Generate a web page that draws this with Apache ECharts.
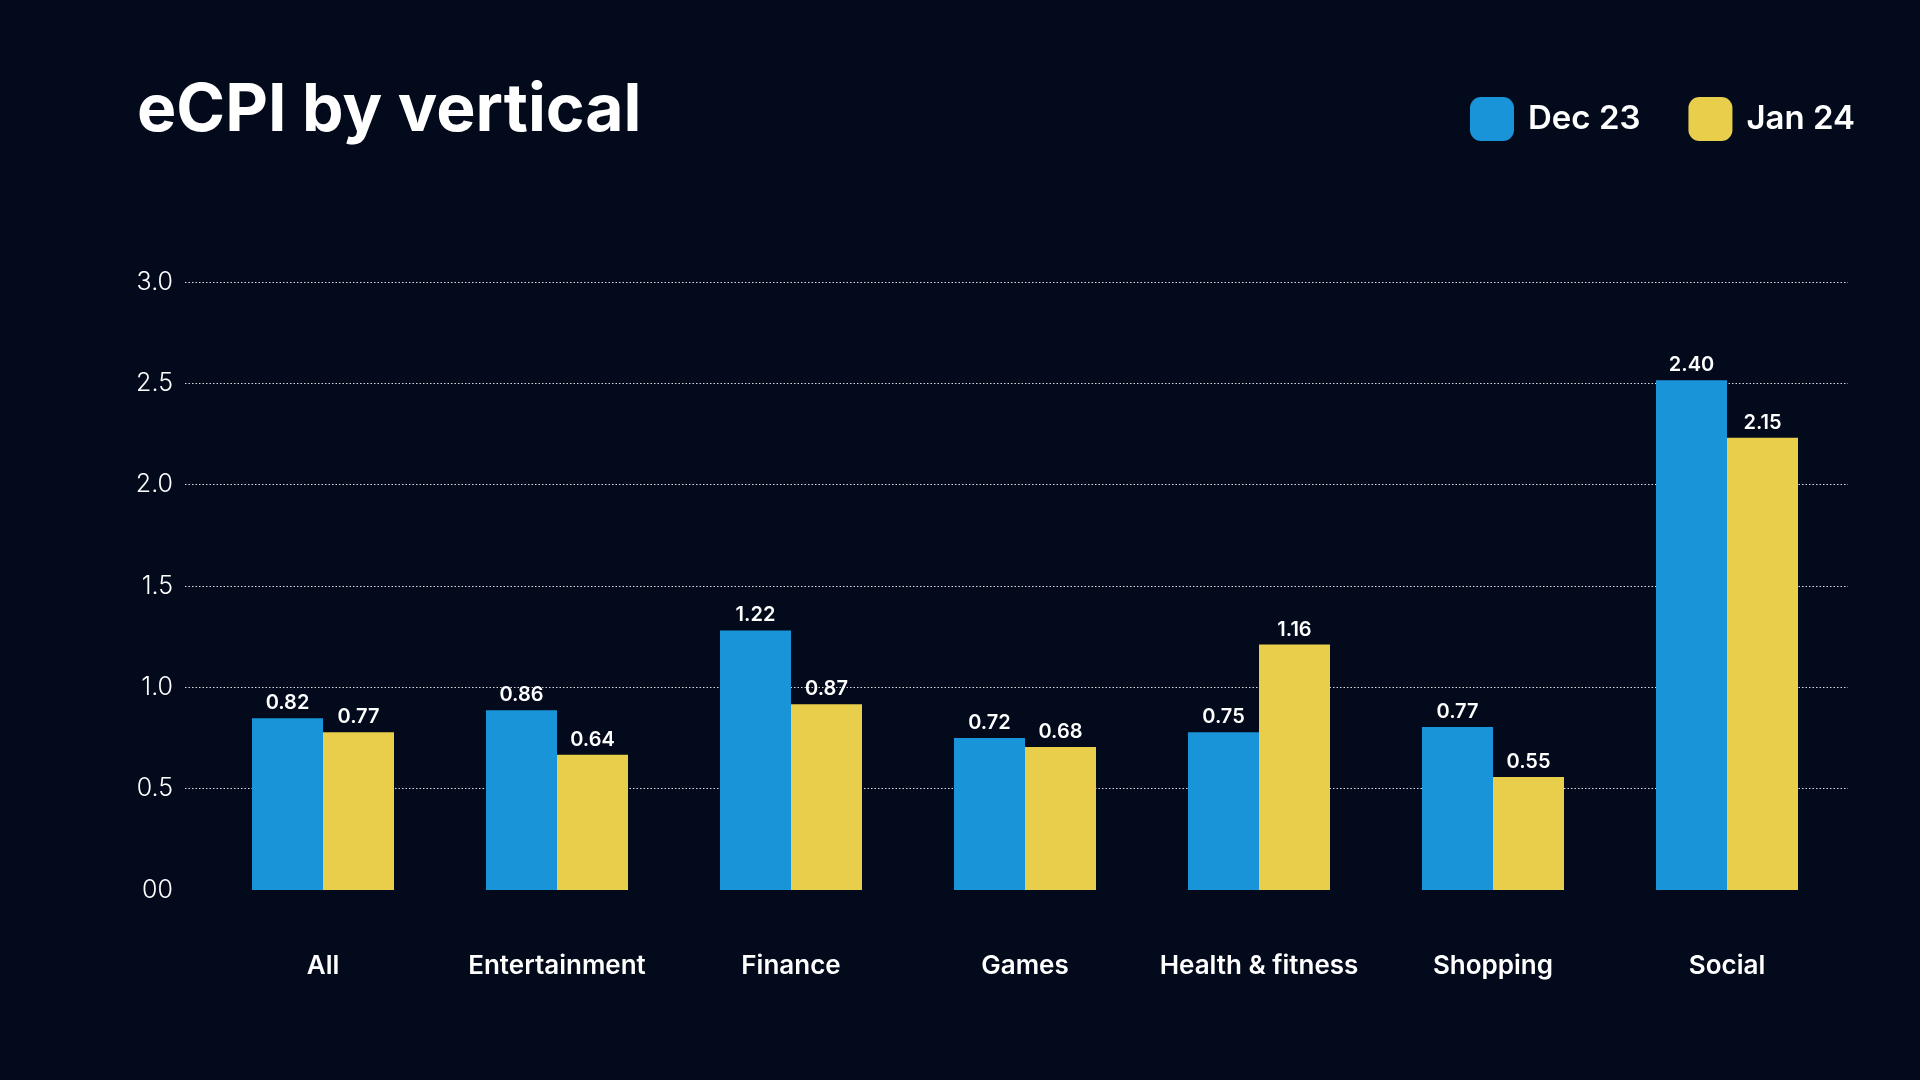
<!DOCTYPE html>
<html>
<head>
<meta charset="utf-8">
<script src="https://cdn.jsdelivr.net/npm/echarts@6/dist/echarts.min.js"></script>
<style>
html,body{margin:0;padding:0;background:#020a1c;}
#chart{width:1920px;height:1080px;}
</style>
</head>
<body>
<div id="chart"></div>
<script>
const categories = ['All','Entertainment','Finance','Games','Health & fitness','Shopping','Social'];
const seriesNames = ['Dec 23','Jan 24'];
// bar heights
const dec23 = [0.848, 0.887, 1.281, 0.750, 0.778, 0.804, 2.515];
const jan24 = [0.778, 0.667, 0.917, 0.706, 1.211, 0.558, 2.232];
// value labels printed above the bars
const dec23Labels = ['0.82','0.86','1.22','0.72','0.75','0.77','2.40'];
const jan24Labels = ['0.77','0.64','0.87','0.68','1.16','0.55','2.15'];
const yTickLabels = ['00','0.5','1.0','1.5','2.0','2.5','3.0'];

const FONT = 'Inter, "Noto Sans", sans-serif';
const BLUE = '#1a94d9';
const YELLOW = '#e8ce4a';

const chart = echarts.init(document.getElementById('chart'), null, {renderer:'canvas'});

const barLabel = (labels) => ({
  show: true,
  position: 'top',
  distance: 5,
  color: '#ffffff',
  fontFamily: FONT,
  fontWeight: 600,
  fontSize: 20,
  formatter: (p) => labels[p.dataIndex]
});

chart.setOption({
  backgroundColor: '#020a1c',
  animation: false,
  title: {
    text: 'eCPI by vertical',
    left: 132,
    top: 73,
    textStyle: {color:'#ffffff', fontFamily: FONT, fontWeight: 700, fontSize: 66}
  },
  legend: {
    data: seriesNames,
    left: 1465,
    top: 92,
    itemWidth: 44,
    itemHeight: 44,
    itemGap: 48,
    icon: 'roundRect',
    textStyle: {color:'#ffffff', fontFamily: FONT, fontWeight: 600, fontSize: 33, padding:[0,0,0,9]}
  },
  grid: [
    {left: 185, right: 72, top: 282, bottom: 190},
    {left: 206, right: 76, top: 282, bottom: 190}
  ],
  xAxis: [
    {gridIndex: 0, type: 'category', data: categories, show: false},
    {
      gridIndex: 1, type: 'category', data: categories,
      axisLine: {show:false}, axisTick: {show:false},
      axisLabel: {color:'#ffffff', fontFamily: FONT, fontWeight: 600, fontSize: 26, margin: 63, interval: 0}
    }
  ],
  yAxis: [
    {
      gridIndex: 0, type: 'value', min: 0, max: 3, interval: 0.5,
      axisLine: {show:false}, axisTick: {show:false},
      axisLabel: {
        color:'#ffffff', fontFamily: FONT, fontWeight: 300, fontSize: 25, margin: 12,
        formatter: (v) => yTickLabels[Math.round(v / 0.5)]
      },
      splitLine: {show: true, showMinLine: false, lineStyle: {color:'rgba(255,255,255,0.85)', width: 1, type: [1.5, 2]}}
    },
    {gridIndex: 1, type: 'value', min: 0, max: 3, interval: 0.5, show: false, splitLine: {show:false}}
  ],
  series: [
    {
      name: seriesNames[0], type: 'bar', xAxisIndex: 1, yAxisIndex: 1,
      data: dec23, barWidth: 71, barGap: '0%',
      itemStyle: {color: BLUE},
      label: barLabel(dec23Labels)
    },
    {
      name: seriesNames[1], type: 'bar', xAxisIndex: 1, yAxisIndex: 1,
      data: jan24, barWidth: 71, barGap: '0%',
      itemStyle: {color: YELLOW},
      label: barLabel(jan24Labels)
    }
  ]
});
</script>
</body>
</html>
